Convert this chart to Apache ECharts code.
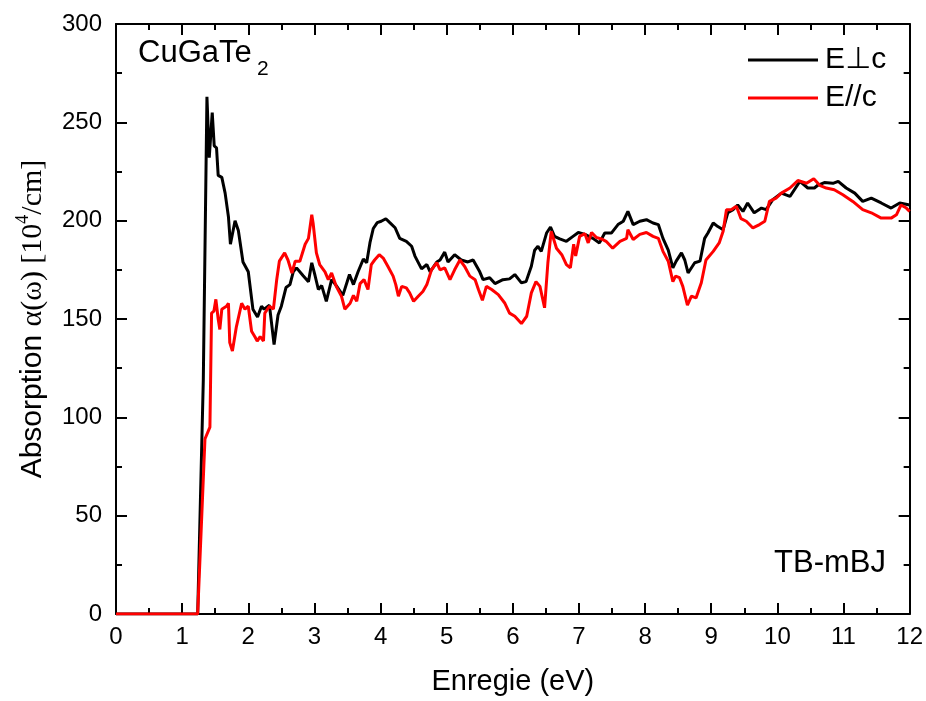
<!DOCTYPE html>
<html>
<head>
<meta charset="utf-8">
<script src="https://cdn.jsdelivr.net/npm/echarts@6/dist/echarts.min.js"></script>
<style>html,body{margin:0;padding:0;background:#fff}#c{width:926px;height:701px}</style>
</head>
<body>
<div id="c"></div>
<script>
// E perpendicular to c (black)
var perpE = [0,1.235,1.32,1.375,1.41,1.455,1.485,1.52,1.545,1.6,1.65,1.70,1.73,1.80,1.85,1.92,2.0,2.07,2.14,2.20,2.24,2.32,2.39,2.45,2.50,2.57,2.63,2.68,2.73,2.83,2.91,2.96,3.01,3.06,3.11,3.18,3.26,3.33,3.43,3.53,3.59,3.66,3.74,3.79,3.84,3.89,3.95,4.01,4.08,4.14,4.22,4.29,4.39,4.47,4.52,4.62,4.70,4.75,4.85,4.90,4.97,5.02,5.12,5.22,5.32,5.40,5.50,5.55,5.65,5.73,5.85,5.95,6.03,6.13,6.20,6.28,6.33,6.38,6.43,6.51,6.57,6.63,6.71,6.81,6.91,6.99,7.09,7.21,7.31,7.39,7.49,7.59,7.67,7.74,7.82,7.92,8.02,8.12,8.20,8.27,8.35,8.42,8.47,8.55,8.60,8.65,8.75,8.83,8.90,8.95,9.03,9.10,9.18,9.25,9.33,9.40,9.48,9.55,9.65,9.76,9.83,9.93,10.06,10.19,10.34,10.46,10.56,10.61,10.71,10.84,10.92,11.04,11.17,11.29,11.42,11.57,11.72,11.85,12];
var perpA = [0,0,119,263,232,255,238,237,223,222,214,202,188,200,195,179,174,155,151,156.5,155,157,137,152,156.5,166,167.5,174,176,172,169,178.6,172,165,167,159,170,167,162,172.6,167.5,174,180.5,178.6,188.8,196,199,199.7,201,199,196.4,191,189.5,187,182,175.5,177.7,174,179,180,184,179,182.7,180,179,180,174,170,171,168,170,170.4,172.6,168.4,169,176.8,185,187,184.4,193.7,196.8,192,190.7,189.5,192,194,193,191,188.7,193.7,193.7,198,199.7,204.7,198,199.7,200.5,198.8,198,191,185,176,179.4,183.6,180,173.4,178.6,179.4,191,193.7,198.8,197,195.4,204,205.6,208,204.7,209,204,206.4,205.6,210.7,214,212.3,220,216.6,216.6,218,219.4,219,220,216.6,214,209.8,211.5,209,206.4,209,208];
// E parallel to c (red)
var parE = [0,1.235,1.345,1.42,1.445,1.48,1.51,1.545,1.57,1.60,1.67,1.70,1.72,1.76,1.82,1.90,1.95,2.0,2.05,2.10,2.135,2.18,2.23,2.25,2.32,2.38,2.43,2.47,2.50,2.55,2.60,2.66,2.71,2.78,2.86,2.91,2.96,2.98,3.03,3.08,3.16,3.21,3.26,3.33,3.41,3.46,3.54,3.59,3.64,3.69,3.75,3.81,3.86,3.91,3.98,4.04,4.11,4.19,4.23,4.27,4.32,4.39,4.44,4.50,4.57,4.64,4.70,4.77,4.85,4.90,4.97,5.05,5.12,5.20,5.27,5.35,5.43,5.48,5.54,5.60,5.68,5.78,5.88,5.95,6.03,6.13,6.21,6.28,6.35,6.41,6.48,6.53,6.58,6.66,6.74,6.81,6.87,6.92,6.95,7.01,7.09,7.14,7.19,7.26,7.34,7.41,7.51,7.62,7.72,7.74,7.82,7.92,8.02,8.12,8.20,8.27,8.35,8.42,8.46,8.52,8.57,8.64,8.70,8.77,8.85,8.92,9.03,9.12,9.18,9.23,9.30,9.38,9.45,9.53,9.63,9.73,9.81,9.88,9.98,10.06,10.19,10.31,10.44,10.55,10.64,10.74,10.86,10.99,11.14,11.29,11.42,11.57,11.72,11.80,11.87,11.95,12];
var parA = [0,0,89,95,153,154,160,150,144.7,155,156.5,158,138,133.7,146,158,155,156.5,143.8,141,138.8,141,138.8,153,156.5,155,170,179.4,179.4,183.6,180,173.4,179.4,179.4,188,191,203,198.8,183.6,177.7,174,170,173.4,166.6,161.5,155,158,162,159,168,170,165,177.7,180,182.7,181,176.8,171.8,167.5,161.6,166.6,165.8,163.3,159,161.6,164,167.5,175,178.6,175,176,170,175,180,176.8,171.8,170,165,159.5,166.6,165,162.4,158,153,151.4,147.7,151.4,163.3,169,166.6,155.7,178.6,194.6,186,182.7,177.7,176,188,182,192,193.4,188.7,194,191.5,190.7,189.5,186,189.5,191,195.4,190.4,193,194,192,191,184.4,179.4,169,171.8,171,166.6,157,161.6,160.7,168.4,180,184.4,188.7,194.6,205.6,205.6,207.3,201,199.7,196.3,198,199.7,209.8,211.5,214,216.6,220.4,219,221.3,218,216.6,215.7,213.2,209.8,205.6,204,201.3,201.3,203,208,206.4,204.7];
var seriesNames = ['E\u22A5c', 'E//c'];
var xTicks = {min: 0, max: 12, step: 1};
var yTicks = {min: 0, max: 300, step: 50};

function zip(a, b) { return a.map(function (v, i) { return [v, b[i]]; }); }

var sans = "'Liberation Sans', Arial, 'DejaVu Sans', sans-serif";
var serif = "'Liberation Serif', 'Times New Roman', 'DejaVu Serif', serif";

var chart = echarts.init(document.getElementById('c'), null, {renderer: 'canvas'});

function xAx(pos, show) {
  return {
    type: 'value', position: pos, min: xTicks.min, max: xTicks.max, interval: xTicks.step,
    axisLine: {show: true, onZero: false, lineStyle: {color: '#000', width: 2}},
    axisTick: {show: true, inside: true, length: 11, lineStyle: {color: '#000', width: 2}},
    minorTick: {show: true, splitNumber: 2, length: 6, lineStyle: {color: '#000', width: 2}},
    axisLabel: {show: show, color: '#000', fontSize: 24, fontFamily: sans, margin: 11},
    splitLine: {show: false},
    name: show ? 'Enregie (eV)' : '', nameLocation: 'middle', nameGap: 53,
    nameTextStyle: {color: '#000', fontSize: 29, fontFamily: sans}
  };
}
function yAx(pos, show) {
  return {
    type: 'value', position: pos, min: yTicks.min, max: yTicks.max, interval: yTicks.step,
    axisLine: {show: true, onZero: false, lineStyle: {color: '#000', width: 2}},
    axisTick: {show: true, inside: true, length: 11, lineStyle: {color: '#000', width: 2}},
    minorTick: {show: true, splitNumber: 2, length: 6, lineStyle: {color: '#000', width: 2}},
    axisLabel: {show: show, color: '#000', fontSize: 24, fontFamily: sans, margin: 14},
    splitLine: {show: false},
    name: show ? '{a|Absorption }{b|\u03B1(\u03C9) [10}{c|4}{b|/cm]}' : '',
    nameLocation: 'middle', nameGap: 68, nameRotate: 90,
    nameTextStyle: {
      color: '#000',
      rich: {
        a: {fontSize: 30, fontFamily: sans, color: '#000', lineHeight: 34, verticalAlign: 'bottom'},
        b: {fontSize: 30, fontFamily: serif, color: '#000', lineHeight: 34, verticalAlign: 'bottom'},
        c: {fontSize: 18, fontFamily: serif, color: '#000', lineHeight: 34, verticalAlign: 'top'}
      }
    }
  };
}

chart.setOption({
  animation: false,
  backgroundColor: '#fff',
  grid: {left: 116, right: 16, top: 24, bottom: 86, containLabel: false},
  xAxis: [xAx('bottom', true), xAx('top', false)],
  yAxis: [yAx('left', true), yAx('right', false)],
  legend: {
    orient: 'vertical', left: 748, top: 45, icon: 'rect', itemWidth: 70, itemHeight: 3,
    itemGap: 8, padding: 0,
    textStyle: {color: '#000', fontSize: 30, fontFamily: sans, padding: [0, 0, 0, 2]},
    data: seriesNames
  },
  series: [
    {name: seriesNames[0], type: 'line', xAxisIndex: 0, yAxisIndex: 0, data: zip(perpE, perpA),
     showSymbol: false, symbol: 'none', lineStyle: {color: '#000', width: 3}, itemStyle: {color: '#000'}},
    {name: seriesNames[1], type: 'line', xAxisIndex: 0, yAxisIndex: 0, data: zip(parE, parA),
     showSymbol: false, symbol: 'none', lineStyle: {color: '#ff0000', width: 3}, itemStyle: {color: '#ff0000'}}
  ],
  graphic: [
    {type: 'text', left: 138, top: 38, style: {text: 'CuGaTe', fontSize: 31, fontFamily: sans, fill: '#000'}},
    {type: 'text', left: 257, top: 59, style: {text: '2', fontSize: 21, fontFamily: sans, fill: '#000'}},
    {type: 'text', right: 40, top: 548, style: {text: 'TB-mBJ', fontSize: 31, fontFamily: sans, fill: '#000'}}
  ]
});
</script>
</body>
</html>
